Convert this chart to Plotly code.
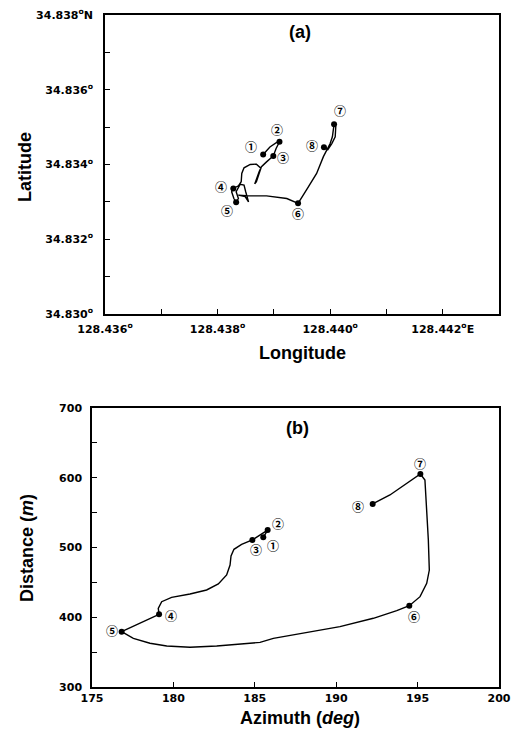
import plotly.graph_objects as go

# ---------------- Panel (a): track in longitude / latitude ----------------
track_lon = [128.43881, 128.43893, 128.43905, 128.43910, 128.43904, 128.43899, 128.43887,
             128.43878, 128.43874, 128.43868, 128.43866, 128.43869, 128.43874, 128.43877,
             128.43869, 128.43858, 128.43847, 128.43843, 128.43842, 128.43837, 128.43828,
             128.43825, 128.43829, 128.43833, 128.43837, 128.43833, 128.43840, 128.43847,
             128.43850, 128.43855, 128.43849, 128.43837, 128.43858, 128.43887, 128.43923,
             128.43943, 128.43958, 128.43976, 128.43988, 128.43994, 128.44000, 128.44004,
             128.44006, 128.44007, 128.44010, 128.44009, 128.44003, 128.43996, 128.43989]
track_lat = [34.83427, 34.83447, 34.83459, 34.83461, 34.83443, 34.83423, 34.83407,
             34.83394, 34.83381, 34.83354, 34.83348, 34.83354, 34.83376, 34.83390,
             34.83401, 34.83400, 34.83391, 34.83376, 34.83354, 34.83343, 34.83336,
             34.83327, 34.83309, 34.83299, 34.83309, 34.83327, 34.83347, 34.83345,
             34.83327, 34.83300, 34.83314, 34.83318, 34.83316, 34.83316, 34.83309,
             34.83296, 34.83332, 34.83376, 34.83421, 34.83439, 34.83456, 34.83474,
             34.83496, 34.83508, 34.83501, 34.83474, 34.83456, 34.83440, 34.83446]

point_labels = ["\u2460", "\u2461", "\u2462", "\u2463", "\u2464", "\u2465", "\u2466", "\u2467"]
point_lon = [128.43881, 128.43910, 128.43899, 128.43828, 128.43833, 128.43943, 128.44007, 128.43989]
point_lat = [34.83427, 34.83461, 34.83423, 34.83336, 34.83299, 34.83296, 34.83508, 34.83446]

# ---------------- Panel (b): azimuth / distance ----------------
track_az = [185.52, 185.79, 184.85, 184.19, 183.72, 183.54, 183.48, 183.27, 182.76, 182.04,
            181.02, 179.89, 179.28, 179.07, 179.12, 176.82, 177.54, 178.56, 179.59, 181.02,
            182.66, 184.09, 185.32, 186.14, 188.19, 190.23, 192.28, 193.72, 194.49, 195.15,
            195.56, 195.72, 195.66, 195.56, 195.45, 195.17, 194.33, 193.30, 192.24]
track_dist = [514.6, 525.0, 510.8, 504.6, 497.4, 487.8, 474.9, 460.6, 447.7, 439.1,
              433.3, 428.6, 422.3, 412.8, 404.2, 379.3, 369.8, 362.7, 358.8, 356.9,
              358.8, 361.5, 364.0, 369.8, 377.8, 386.5, 398.5, 409.4, 416.6, 429.5,
              448.7, 467.7, 510.8, 558.5, 596.8, 605.4, 592.0, 575.3, 562.4]

point_az = [185.52, 185.79, 184.85, 179.12, 176.82, 194.49, 195.17, 192.24]
point_dist = [514.6, 525.0, 510.8, 404.2, 379.3, 416.6, 605.4, 562.4]

# tick values / labels
lon_ticks = [128.436, 128.438, 128.440, 128.442]
lon_text = ["128.436<sup>o</sup>", "128.438<sup>o</sup>", "128.440<sup>o</sup>", "128.442<sup>o</sup>E"]
lon_minor = [128.437, 128.439, 128.441]
lat_ticks = [34.830, 34.832, 34.834, 34.836, 34.838]
lat_text = ["34.830<sup>o</sup>", "34.832<sup>o</sup>", "34.834<sup>o</sup>", "34.836<sup>o</sup>", "34.838<sup>o</sup>N"]
lat_minor = [34.831, 34.833, 34.835, 34.837]
az_ticks = [175, 180, 185, 190, 195, 200]
az_text = ["175", "180", "185", "190", "195", "200"]
dist_ticks = [300, 400, 500, 600, 700]
dist_text = ["300", "400", "500", "600", "700"]
dist_minor = [350, 450, 550, 650]

# label offsets in pixels (style, not data)
off_a = [(-12, 8), (-2, 12), (10, -2), (-12, 2), (-9, -8), (0, -10), (6, 14), (-12, 2)]
off_b = [(10, -8), (10, 7), (4, -10), (12, -1), (-10, 1), (5, -11), (0, 10), (-15, -3)]

W, H = 515, 737
fig = go.Figure()

line_style = dict(color="black", width=1.4)
mk_style = dict(color="black", size=6)

fig.add_trace(go.Scatter(x=track_lon, y=track_lat, mode="lines", line=line_style,
                         xaxis="x", yaxis="y", showlegend=False, hoverinfo="skip"))
fig.add_trace(go.Scatter(x=point_lon, y=point_lat, mode="markers", marker=mk_style,
                         xaxis="x", yaxis="y", showlegend=False))
fig.add_trace(go.Scatter(x=track_az, y=track_dist, mode="lines", line=line_style,
                         xaxis="x2", yaxis="y2", showlegend=False, hoverinfo="skip"))
fig.add_trace(go.Scatter(x=point_az, y=point_dist, mode="markers", marker=mk_style,
                         xaxis="x2", yaxis="y2", showlegend=False))

tickfont = dict(family="DejaVu Sans", size=11, color="black", weight="bold")
axis_common = dict(showline=True, linecolor="black", linewidth=1.5, mirror=True,
                   ticks="inside", ticklen=5, tickwidth=1.2, tickcolor="black",
                   showgrid=False, zeroline=False, tickfont=tickfont, tickmode="array",
                   automargin=False)


def minor(vals):
    return dict(tickmode="array", tickvals=vals, ticks="inside", ticklen=5,
                tickwidth=1.2, tickcolor="black", showgrid=False)


fig.update_layout(
    width=W, height=H,
    margin=dict(l=0, r=0, t=0, b=0, pad=0),
    paper_bgcolor="white", plot_bgcolor="white",
    xaxis=dict(domain=[105 / W, 499 / W], range=[128.436, 128.443], anchor="y",
               tickvals=lon_ticks, ticktext=lon_text, ticklabelstandoff=4,
               minor=minor(lon_minor), **axis_common),
    yaxis=dict(domain=[1 - 314 / H, 1 - 15 / H], range=[34.830, 34.838], anchor="x",
               tickvals=lat_ticks, ticktext=lat_text, ticklabelstandoff=8,
               minor=minor(lat_minor), **axis_common),
    xaxis2=dict(domain=[92 / W, 499 / W], range=[175, 200], anchor="y2",
                tickvals=az_ticks, ticktext=az_text, ticklabelstandoff=0, **axis_common),
    yaxis2=dict(domain=[1 - 687 / H, 1 - 408 / H], range=[300, 700], anchor="x2",
                tickvals=dist_ticks, ticktext=dist_text, ticklabelstandoff=6,
                minor=minor(dist_minor), **axis_common),
)

ann = []
title_font = dict(family="Liberation Sans", size=18, color="black", weight="bold")


def paper_text(text, px, py, angle=0):
    return dict(text=text, x=px / W, y=1 - py / H, xref="paper", yref="paper",
                xanchor="center", yanchor="middle", showarrow=False,
                textangle=angle, font=title_font)


ann.append(paper_text("(a)", 300, 32))
ann.append(paper_text("(b)", 297, 428))
ann.append(paper_text("Latitude", 25, 167, -90))
ann.append(paper_text("Longitude", 302, 353))
ann.append(paper_text("Distance (<i>m</i>)", 27, 548, -90))
ann.append(paper_text("Azimuth (<i>deg</i>)", 300, 718))

lab_font = dict(family="Noto Sans CJK SC", size=12, color="black", weight="bold")
for lab, x, y, (dx, dy) in zip(point_labels, point_lon, point_lat, off_a):
    ann.append(dict(text=lab, x=x, y=y, xref="x", yref="y", showarrow=False,
                    xanchor="center", yanchor="middle",
                    xshift=dx, yshift=dy, font=lab_font))
for lab, x, y, (dx, dy) in zip(point_labels, point_az, point_dist, off_b):
    ann.append(dict(text=lab, x=x, y=y, xref="x2", yref="y2", showarrow=False,
                    xanchor="center", yanchor="middle",
                    xshift=dx, yshift=dy, font=lab_font))

fig.update_layout(annotations=ann)
fig.write_html("out.html")
